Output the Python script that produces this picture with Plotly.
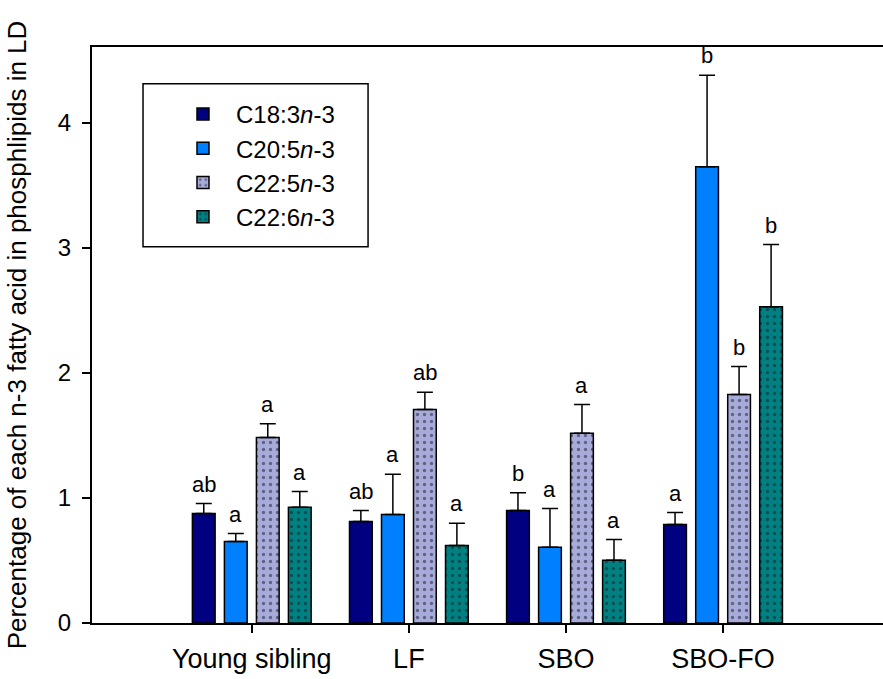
import plotly.graph_objects as go

groups = ["Young sibling", "LF", "SBO", "SBO-FO"]
series_names = ["C18:3<i>n</i>-3", "C20:5<i>n</i>-3", "C22:5<i>n</i>-3", "C22:6<i>n</i>-3"]

c18_3 = [0.876, 0.812, 0.900, 0.788]
c18_3_err = [0.080, 0.088, 0.142, 0.096]
c18_3_sig = ["ab", "ab", "b", "a"]

c20_5 = [0.652, 0.868, 0.606, 3.650]
c20_5_err = [0.064, 0.322, 0.310, 0.732]
c20_5_sig = ["a", "a", "a", "b"]

c22_5 = [1.484, 1.708, 1.518, 1.828]
c22_5_err = [0.110, 0.138, 0.230, 0.224]
c22_5_sig = ["a", "ab", "a", "b"]

c22_6 = [0.926, 0.620, 0.502, 2.530]
c22_6_err = [0.126, 0.178, 0.166, 0.498]
c22_6_sig = ["a", "a", "a", "b"]

values = [c18_3, c20_5, c22_5, c22_6]
errors = [c18_3_err, c20_5_err, c22_5_err, c22_6_err]
sigs = [c18_3_sig, c20_5_sig, c22_5_sig, c22_6_sig]

colors = ["#000080", "#0080FF", "#A7ABD9", "#008080"]
patterns = ["", "", ".", "."]

FONT = "Liberation Sans, Arial, sans-serif"
BARGAP = 0.185
BARGROUPGAP = 0.29

xpos = list(range(len(groups)))

fig = go.Figure()
for k in range(4):
    fig.add_trace(go.Bar(
        x=xpos, y=values[k], name=series_names[k],
        marker=dict(color=colors[k], line=dict(color="black", width=1.5),
                    pattern=dict(shape=patterns[k], fgcolor="#1a1a2a", size=7, solidity=0.18)),
        error_y=dict(type="data", array=errors[k], arrayminus=[0] * len(groups), symmetric=False,
                     color="black", thickness=1.5, width=8),
    ))

slot = (1 - BARGAP) / 4
annotations = []
for k in range(4):
    for i in range(len(groups)):
        annotations.append(dict(
            x=xpos[i] + (k - 1.5) * slot, y=values[k][i] + errors[k][i],
            xref="x", yref="y", text=sigs[k][i], showarrow=False,
            yanchor="bottom", yshift=5, font=dict(family=FONT, size=22, color="black"),
        ))

fig.update_layout(
    width=883, height=679,
    margin=dict(l=92, r=0, t=47, b=56, autoexpand=False),
    plot_bgcolor="white", paper_bgcolor="white",
    barmode="group", bargap=BARGAP, bargroupgap=BARGROUPGAP,
    font=dict(family=FONT, size=24, color="black"),
    annotations=annotations,
    shapes=[dict(type="rect", xref="paper", yref="paper",
                 x0=0.0645, x1=0.349, y0=0.653, y1=0.936,
                 line=dict(color="black", width=1.5), fillcolor="rgba(0,0,0,0)")],
    legend=dict(x=0.0986, y=0.922, xanchor="left", yanchor="top",
                borderwidth=0, bgcolor="rgba(0,0,0,0)", itemwidth=56,
                font=dict(family=FONT, size=24)),
    xaxis=dict(range=[-1.017, 4.018], tickvals=xpos, ticktext=groups,
               ticks="outside", ticklen=8, tickwidth=1.5, tickcolor="black",
               showline=True, linewidth=2, linecolor="black", mirror=True,
               showgrid=False, zeroline=False, tickfont=dict(size=27),
               ticklabelstandoff=3, automargin=False),
    yaxis=dict(range=[0, 4.608], tickvals=[0, 1, 2, 3, 4],
               ticks="outside", ticklen=8, tickwidth=1.5, tickcolor="black",
               showline=True, linewidth=2, linecolor="black",
               showgrid=False, zeroline=False, tickfont=dict(size=24),
               ticklabelstandoff=6, automargin=False,
               title=dict(text="Percentage of each n-3 fatty acid in phosphlipids in LD",
                          font=dict(size=26), standoff=24)),
)

fig.write_html("out.html", config={"displayModeBar": False},
               post_script="document.body.style.margin='0';document.body.style.overflow='hidden';")
